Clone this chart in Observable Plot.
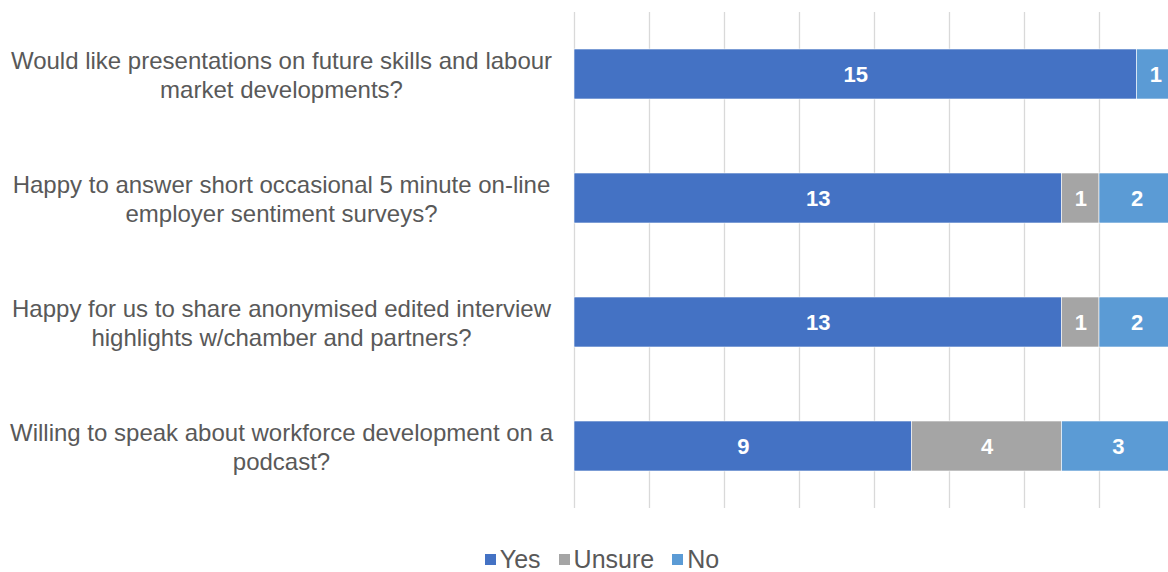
<!DOCTYPE html>
<html>
<head>
<meta charset="utf-8">
<script src="https://cdn.jsdelivr.net/npm/d3@7"></script>
<script src="https://cdn.jsdelivr.net/npm/@observablehq/plot@0.6"></script>
<style>
  html, body { margin: 0; padding: 0; background: #fff; }
  body { width: 1168px; height: 572px; overflow: hidden; font-family: "Liberation Sans", Arial, sans-serif; }
  #legend { display: flex; justify-content: center; align-items: center; height: 42px; margin-top: 16px; font-size: 25px; color: #595959; padding-left: 36px; }
  #legend .item { display: flex; align-items: center; margin: 0 9px; }
  #legend .sw { width: 11px; height: 11px; margin-right: 4px; }
</style>
</head>
<body>
<div id="chart"></div>
<div id="legend"></div>
<script>
const questions = [
  "Would like presentations on future skills and labour market developments?",
  "Happy to answer short occasional 5 minute on-line employer sentiment surveys?",
  "Happy for us to share anonymised edited interview highlights w/chamber and partners?",
  "Willing to speak about workforce development on a podcast?"
];
const questionLines = [
  "Would like presentations on future skills and labour\nmarket developments?",
  "Happy to answer short occasional 5 minute on-line\nemployer sentiment surveys?",
  "Happy for us to share anonymised edited interview\nhighlights w/chamber and partners?",
  "Willing to speak about workforce development on a\npodcast?"
];
const responses = ["Yes", "Unsure", "No"];
const colors = ["#4472C4", "#A5A5A5", "#5B9BD5"];
const yesValues = [15, 13, 13, 9];
const unsureValues = [0, 1, 1, 4];
const noValues = [1, 2, 2, 3];
const gridTicks = [0, 2, 4, 6, 8, 10, 12, 14, 16];

const data = [];
questions.forEach((q, i) => {
  data.push({question: q, response: "Yes", value: yesValues[i]});
  data.push({question: q, response: "Unsure", value: unsureValues[i]});
  data.push({question: q, response: "No", value: noValues[i]});
});

const plot = Plot.plot({
  width: 1168,
  height: 522,
  marginLeft: 574,
  marginRight: -6,
  marginTop: 12,
  marginBottom: 14,
  style: {fontFamily: '"Liberation Sans", Arial, sans-serif', background: "white"},
  x: {domain: [0, 16], axis: null},
  y: {domain: questions, paddingInner: 0.6, paddingOuter: 0.3, label: null},
  color: {domain: responses, range: colors},
  marks: [
    Plot.gridX(gridTicks, {stroke: "#d9d9d9", strokeOpacity: 1, strokeWidth: 1.3}),
    Plot.axisY({
      tickSize: 0,
      tickPadding: 0,
      textAnchor: "middle",
      dx: -293,
      fontSize: 24,
      fill: "#595959",
      lineHeight: 1.17,
      tickFormat: d => questionLines[questions.indexOf(d)],
      label: null
    }),
    Plot.barX(data, {x: "value", y: "question", fill: "response", order: responses, stroke: "white", strokeWidth: 0.6}),
    Plot.text(data.filter(d => d.value > 0), Plot.stackX({
      x: "value", y: "question", z: "response", order: responses,
      text: "value", fill: "white", fontWeight: "bold", fontSize: 22
    }))
  ]
});
document.getElementById("chart").appendChild(plot);

const legend = document.getElementById("legend");
responses.forEach((r, i) => {
  const item = document.createElement("div");
  item.className = "item";
  const sw = document.createElement("span");
  sw.className = "sw";
  sw.style.background = colors[i];
  const t = document.createElement("span");
  t.textContent = r;
  item.appendChild(sw);
  item.appendChild(t);
  legend.appendChild(item);
});
</script>
</body>
</html>
